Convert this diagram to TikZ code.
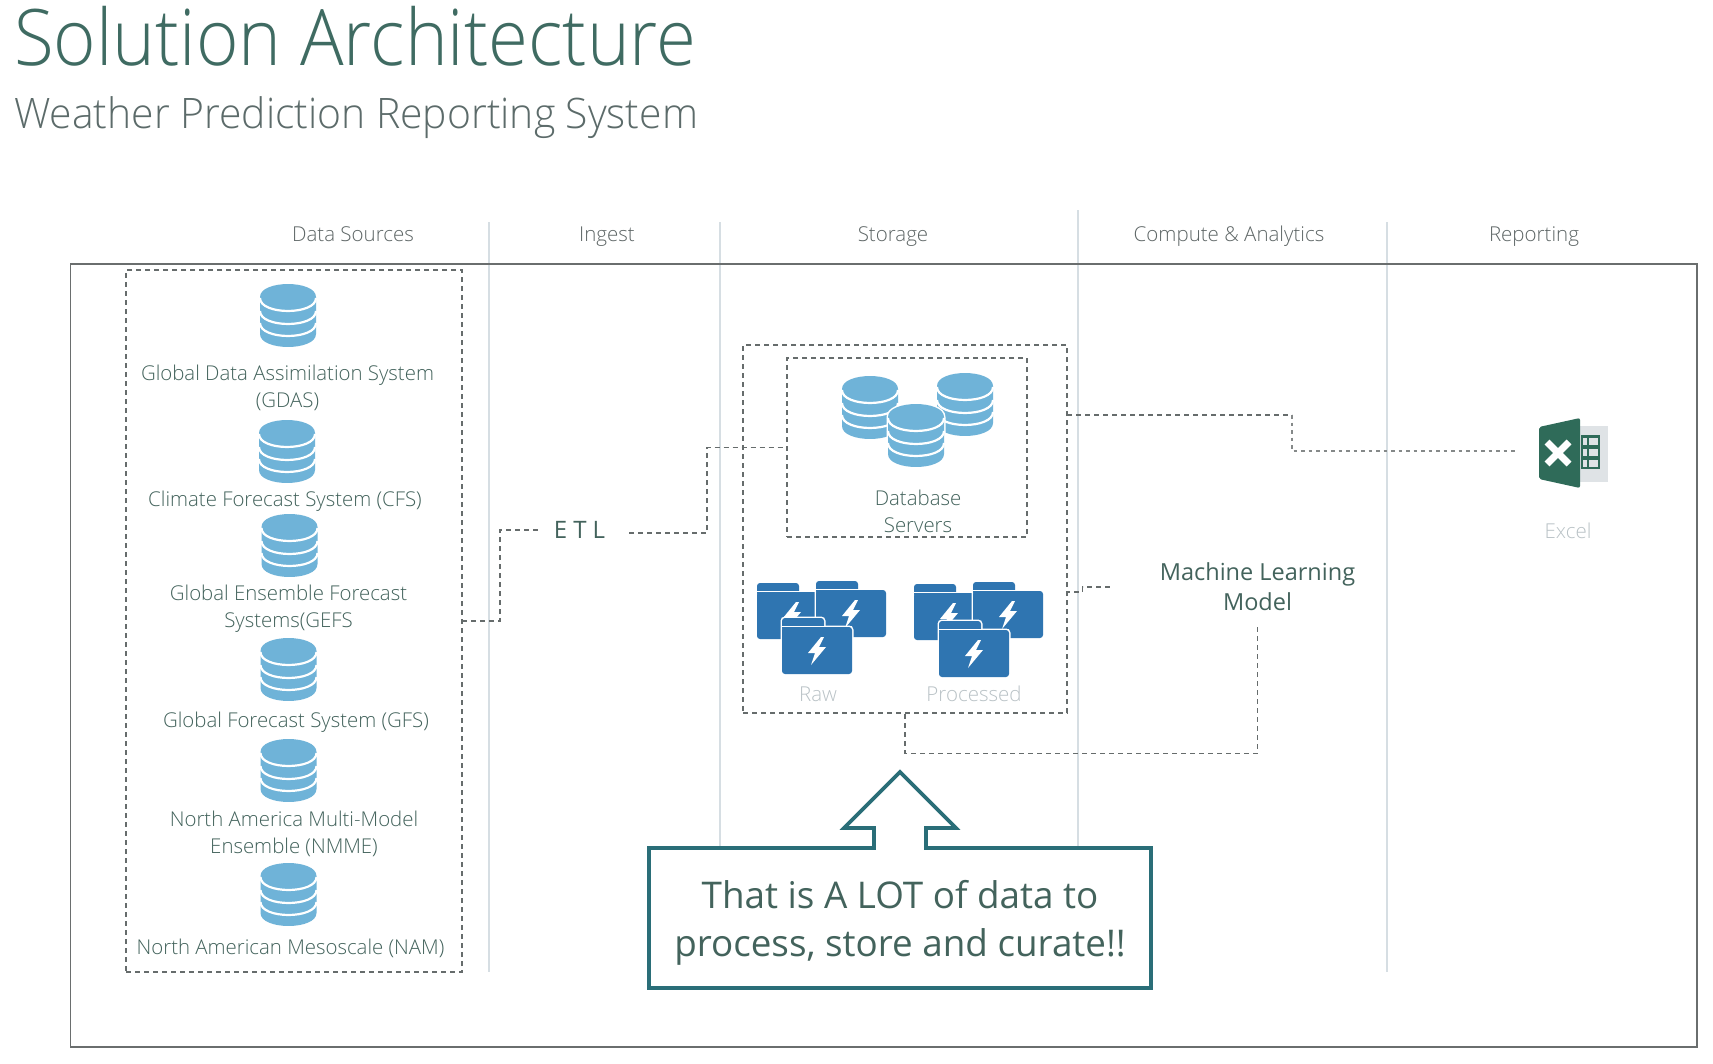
\documentclass[tikz,border=0pt]{standalone}
\usepackage{fontspec}
\setmainfont{Open Sans Light}
\newfontfamily\regfont{Open Sans}
\usetikzlibrary{calc}
\definecolor{titlec}{HTML}{3F6B62}
\definecolor{subc}{HTML}{5C6B6A}
\definecolor{labc}{HTML}{43635C}
\definecolor{headc}{HTML}{5E6666}
\definecolor{paleC}{HTML}{B9C2C6}
\definecolor{vlinec}{HTML}{D6DEE3}
\definecolor{framec}{HTML}{6A6E6E}
\definecolor{dashc}{HTML}{666C6C}
\definecolor{dbblue}{HTML}{6FB3D8}
\definecolor{foldblue}{HTML}{2F75B1}
\definecolor{xlgreen}{HTML}{2F6B59}
\definecolor{xlgray}{HTML}{DFE3E6}
\definecolor{callc}{HTML}{2A6E78}
\tikzset{
  x=1pt,y=-1pt,
  lab/.style={font=\fontsize{20.4}{27.3}\selectfont,text=labc,align=center,inner sep=0pt},
  head/.style={font=\fontsize{20.5}{25}\selectfont,text=headc,inner sep=0pt,anchor=base},
  pale/.style={font=\fontsize{20.5}{25}\selectfont,text=paleC,inner sep=0pt},
  vline/.style={draw=vlinec,line width=1.5pt},
  dbox/.style={draw=dashc,line width=1.2pt,dash pattern=on 5pt off 4pt,inner sep=0pt,outer sep=0pt},
  conn/.style={draw=dashc,line width=1.2pt,dash pattern=on 5pt off 4pt},
  connlight/.style={draw=dashc!80,line width=1.4pt,dash pattern=on 3.5pt off 4pt},
  dbpic/.pic={
    \fill[white,draw=white,line width=3pt] (-28,13) -- (-28,50) .. controls (-28,67.3) and (28,67.3) .. (28,50) -- (28,13) .. controls (28,-4.3) and (-28,-4.3) .. (-28,13) -- cycle;
    \fill[dbblue] (-28,13) -- (-28,50) .. controls (-28,67.3) and (28,67.3) .. (28,50) -- (28,13) .. controls (28,-4.3) and (-28,-4.3) .. (-28,13) -- cycle;
    \foreach \s in {14,27,39}{
      \draw[white,line width=2.2pt] (-28,\s) .. controls (-28,\s+17.3) and (28,\s+17.3) .. (28,\s);
    }
  },
  foldpic/.pic={
    \fill[white,draw=white,line width=3pt,rounded corners=3pt] (0,-9) rectangle (42,4);
    \fill[white,draw=white,line width=3pt,rounded corners=3pt] (0,0) rectangle (70,47);
    \fill[foldblue,rounded corners=3pt] (0,-9) rectangle (42,4);
    \draw[white,line width=1pt] (0,-1) -- (70,-1);
    \fill[foldblue,rounded corners=3pt] (0,0) rectangle (70,47);
    \fill[white] (39,10) -- (26,26) -- (33,26) -- (29,38) -- (44,20) -- (37,20) -- (42,10) -- cycle;
  }
}
\begin{document}
\begin{tikzpicture}
\useasboundingbox (0,0) rectangle (1713,1063);
\fill[white] (0,0) rectangle (1713,1063);
% column rules
\draw[vline] (489,222) -- (489,972);
\draw[vline] (720,222) -- (720,850);
\draw[vline] (1078,210) -- (1078,850);
\draw[vline] (1387,222) -- (1387,972);
% frame
\draw[framec,line width=1.6pt] (70.5,264) rectangle (1697,1047);
% title
\node[anchor=west,inner sep=0pt,font=\fontsize{78}{90}\selectfont,text=titlec] (title) at (14,36) {\scalebox{0.93}[1]{Solution Architecture}};
\node[anchor=west,inner sep=0pt,font=\fontsize{42}{50}\selectfont,text=subc] (subtitle) at (14,118) {\scalebox{0.972}[1]{Weather Prediction Reporting System}};
% headers
\node[head] (hdata) at (353,241) {Data Sources};
\node[head] (hing) at (607,241) {Ingest};
\node[head] (hsto) at (893,241) {Storage};
\node[head] (hcomp) at (1229,241) {Compute \& Analytics};
\node[head] (hrep) at (1534,241) {Reporting};
% dashed boxes
\node[dbox,minimum width=336pt,minimum height=702pt] (src) at (294,621) {};
\node[dbox,minimum width=324pt,minimum height=368pt] (st) at (905,529) {};
\node[dbox,minimum width=240pt,minimum height=179pt] (dbs) at (907,447.5) {};
% source icons
\pic at (288,284) {dbpic};
\pic at (287,420) {dbpic};
\pic at (289.5,514) {dbpic};
\pic at (288.5,638) {dbpic};
\pic at (288.5,739) {dbpic};
\pic at (288.5,863) {dbpic};
% source labels
\node[lab] (gdas) at (287.5,388) {Global Data Assimilation System\\(GDAS)};
\node[lab] (cfs) at (285,501) {Climate Forecast System (CFS)};
\node[lab] (gefs) at (288.5,608.5) {Global Ensemble Forecast\\Systems(GEFS};
\node[lab] (gfs) at (296,722) {Global Forecast System (GFS)};
\node[lab] (nmme) at (294,834) {North America Multi-Model\\Ensemble (NMME)};
\node[lab] (nam) at (290.5,948) {North American Mesoscale (NAM)};
% ETL
\node[inner sep=0pt,minimum width=82pt,minimum height=30pt,font=\fontsize{24}{28}\regfont\addfontfeature{LetterSpace=25},text=labc] (etl) at (579.5,530) {ETL};
\coordinate (etlR) at (629,533);
% database servers
\pic at (870,376) {dbpic};
\pic at (965,373) {dbpic};
\pic at (916,404) {dbpic};
\node[lab] (dbl) at (918,511) {Database\\Servers};
% folders
\pic at (757,592) {foldpic};
\pic at (816,590) {foldpic};
\pic at (782,627) {foldpic};
\pic at (914,593) {foldpic};
\pic at (973,591) {foldpic};
\pic at (939,630) {foldpic};
\node[pale] (raw) at (818,694) {Raw};
\node[pale] (proc) at (974,694) {Processed};
% machine learning
\node[inner sep=0pt,minimum width=295pt,minimum height=80pt,align=center,font=\fontsize{23.5}{30}\regfont,text=labc] (ml) at (1257.5,587) {Machine Learning\\Model};
% excel
\node[inner sep=0pt,minimum width=114pt,minimum height=70pt] (excel) at (1573,451) {};
\fill[xlgray] (1580,426) rectangle (1608,482);
\fill[xlgreen] (1581,435) rectangle (1600,469);
\foreach \yy in {438,449,460}{
  \fill[xlgray] (1583,\yy) rectangle (1587,\yy+7);
  \fill[xlgray] (1589,\yy) rectangle (1598,\yy+7);
}
\fill[xlgreen,rounded corners=2pt] (1539,427) -- (1580,418) -- (1580,488) -- (1539,479) -- cycle;
\draw[white,line width=7pt] (1547,442) -- (1569,464) (1569,442) -- (1547,464);
\node[pale] (xll) at (1568,531) {Excel};
% connectors
\draw[conn] (src.east) -- ++(38,0) |- (etl.west);
\draw[conn] (etlR) -- ++(78,0) |- (dbs.west);
\coordinate (c2) at (1292,415);
\draw[conn] (st.east |- c2) -- (c2);
\draw[connlight] (c2) |- (excel.west);
\draw[conn] (ml.west) -- ++(-27,0) -- ++(0,5) -- (st.east |- 0,592);
\draw[conn] (ml.south) -- ++(0,126) -| (st.south);
% callout
\draw[callc,line width=3.6pt,fill=white,miter limit=4] (649,848) -- (874,848) -- (874,828) -- (844,828) -- (900,772) -- (956,828) -- (926,828) -- (926,848) -- (1151,848) -- (1151,988) -- (649,988) -- cycle;
\node[inner sep=0pt,align=center,font=\fontsize{36.8}{48}\regfont,text=labc] (callout) at (900,923) {That is A LOT of data to\\process, store and curate!!};
\end{tikzpicture}
\end{document}
